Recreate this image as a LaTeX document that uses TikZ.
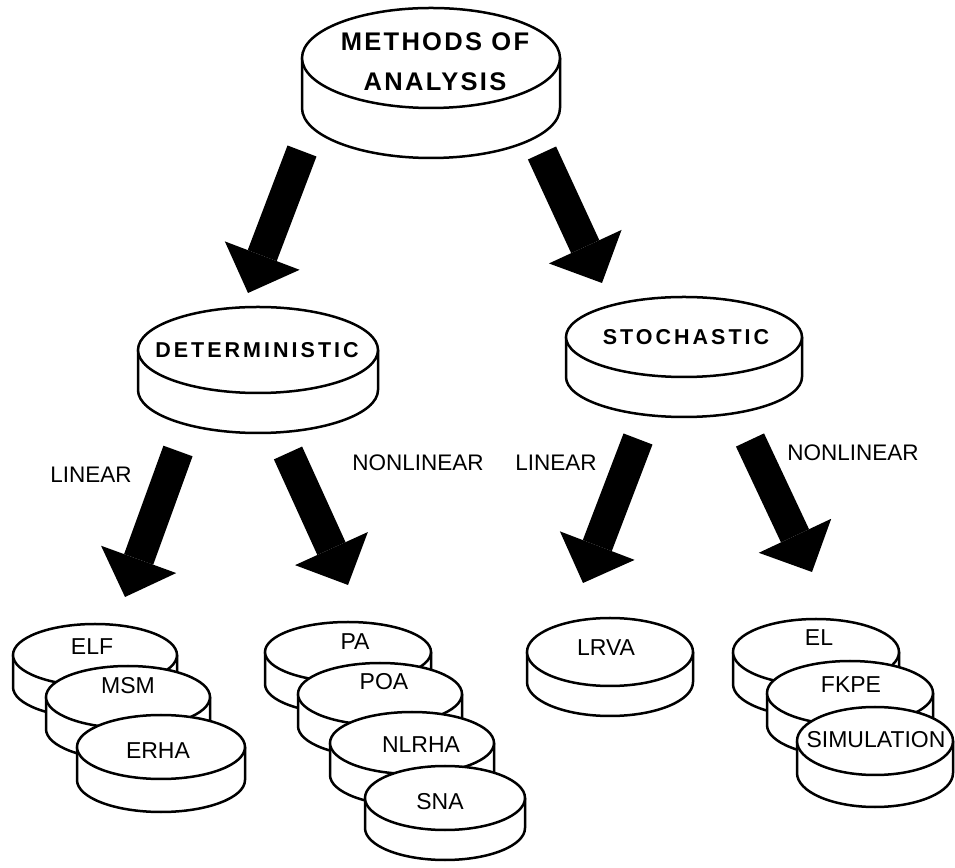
\documentclass[tikz,border=0pt]{standalone}
\usepackage{fontspec}
\setmainfont{Liberation Sans}
\newfontfamily\spacedfont{Liberation Sans}[LetterSpace=14]
\newfontfamily\spacedfontb{Liberation Sans}[LetterSpace=9]
\usetikzlibrary{shapes.geometric,arrows.meta}
\tikzset{
  discbody/.style={draw=black, fill=white, line width=2.5pt, line join=round},
  discface/.style={ellipse, draw=black, fill=white, line width=2.5pt, inner sep=0pt, outer sep=0pt},
  lab/.style={inner sep=0pt, font=\fontsize{23}{27}\selectfont},
  edgelab/.style={inner sep=0pt, font=\fontsize{22.5}{27}\selectfont},
  boldlab/.style={inner sep=0pt, font=\spacedfont\bfseries\fontsize{21.5}{25}\selectfont},
  bigarrow/.style={line width=31pt, line cap=butt, -{Triangle[width=80pt,length=40pt,line width=0pt]}},
}
\newcommand{\mydisc}[6]{%
  \path[discbody] (#2-#4,#3) -- ++(0,-#6) arc[start angle=180,end angle=360,x radius=#4,y radius=#5] -- ++(0,#6) -- cycle;
  \node[discface, minimum width={2*#4pt}, minimum height={2*#5pt}] (#1) at (#2,#3) {};
}
\begin{document}
\begin{tikzpicture}[x=1pt,y=1pt]
\useasboundingbox (0,0) rectangle (955,867);
% top
\mydisc{moa}{431}{809}{129}{50}{50}
\node[inner sep=0pt, align=center, font=\spacedfontb\bfseries\fontsize{25.5}{40}\selectfont] (moa-t) at (435,805) {METHODS OF\\ANALYSIS};
% second level
\mydisc{det}{258}{517}{120}{43}{40}
\node[boldlab] (det-t) at (257,517) {DETERMINISTIC};
\mydisc{sto}{684}{530}{118}{40}{40}
\node[boldlab] (sto-t) at (686,530) {STOCHASTIC};
% bottom: deterministic linear
\mydisc{elf}{95}{212}{82}{31}{32}
\node[lab] (elf-t) at (92,220) {ELF};
\mydisc{msm}{128}{170}{82}{31}{32}
\node[lab] (msm-t) at (128,181) {MSM};
\mydisc{erha}{161}{120}{84}{32}{33}
\node[lab] (erha-t) at (158,116) {ERHA};
% deterministic nonlinear
\mydisc{pa}{348}{215}{83}{30}{32}
\node[lab] (pa-t) at (355,225) {PA};
\mydisc{poa}{380}{173}{82}{31}{32}
\node[lab] (poa-t) at (384,185) {POA};
\mydisc{nlrha}{412}{124}{82}{31}{32}
\node[lab] (nlrha-t) at (421,122) {NLRHA};
\mydisc{sna}{445}{69}{80}{32}{30}
\node[lab] (sna-t) at (440,65) {SNA};
% stochastic linear
\mydisc{lrva}{610}{215}{83}{34}{30}
\node[lab] (lrva-t) at (606,219) {LRVA};
% stochastic nonlinear
\mydisc{el}{816}{215}{83}{33}{32}
\node[lab] (el-t) at (819,229) {EL};
\mydisc{fkpe}{850}{174}{83}{32}{32}
\node[lab] (fkpe-t) at (851,182) {FKPE};
\mydisc{sim}{875}{126}{78}{34}{32}
\node[lab] (sim-t) at (876,127) {SIMULATION};
% arrows
\coordinate (a1s) at (302,716); \coordinate (a1e) at (248,574);
\coordinate (a2s) at (542,714); \coordinate (a2e) at (602,584);
\coordinate (a3s) at (178,416); \coordinate (a3e) at (125,270);
\coordinate (a4s) at (288,414); \coordinate (a4e) at (348,282);
\coordinate (a5s) at (638,428); \coordinate (a5e) at (583,284);
\coordinate (a6s) at (750,427); \coordinate (a6e) at (812,295);
\draw[bigarrow] (a1s) -- (a1e);
\draw[bigarrow] (a2s) -- (a2e);
\draw[bigarrow] (a3s) -- (a3e);
\draw[bigarrow] (a4s) -- (a4e);
\draw[bigarrow] (a5s) -- (a5e);
\draw[bigarrow] (a6s) -- (a6e);
% edge labels
\node[edgelab] (l1) at (91,392) {LINEAR};
\node[edgelab] (l2) at (418,404) {NONLINEAR};
\node[edgelab] (l3) at (556,404) {LINEAR};
\node[edgelab] (l4) at (853,414) {NONLINEAR};
\end{tikzpicture}
\end{document}
